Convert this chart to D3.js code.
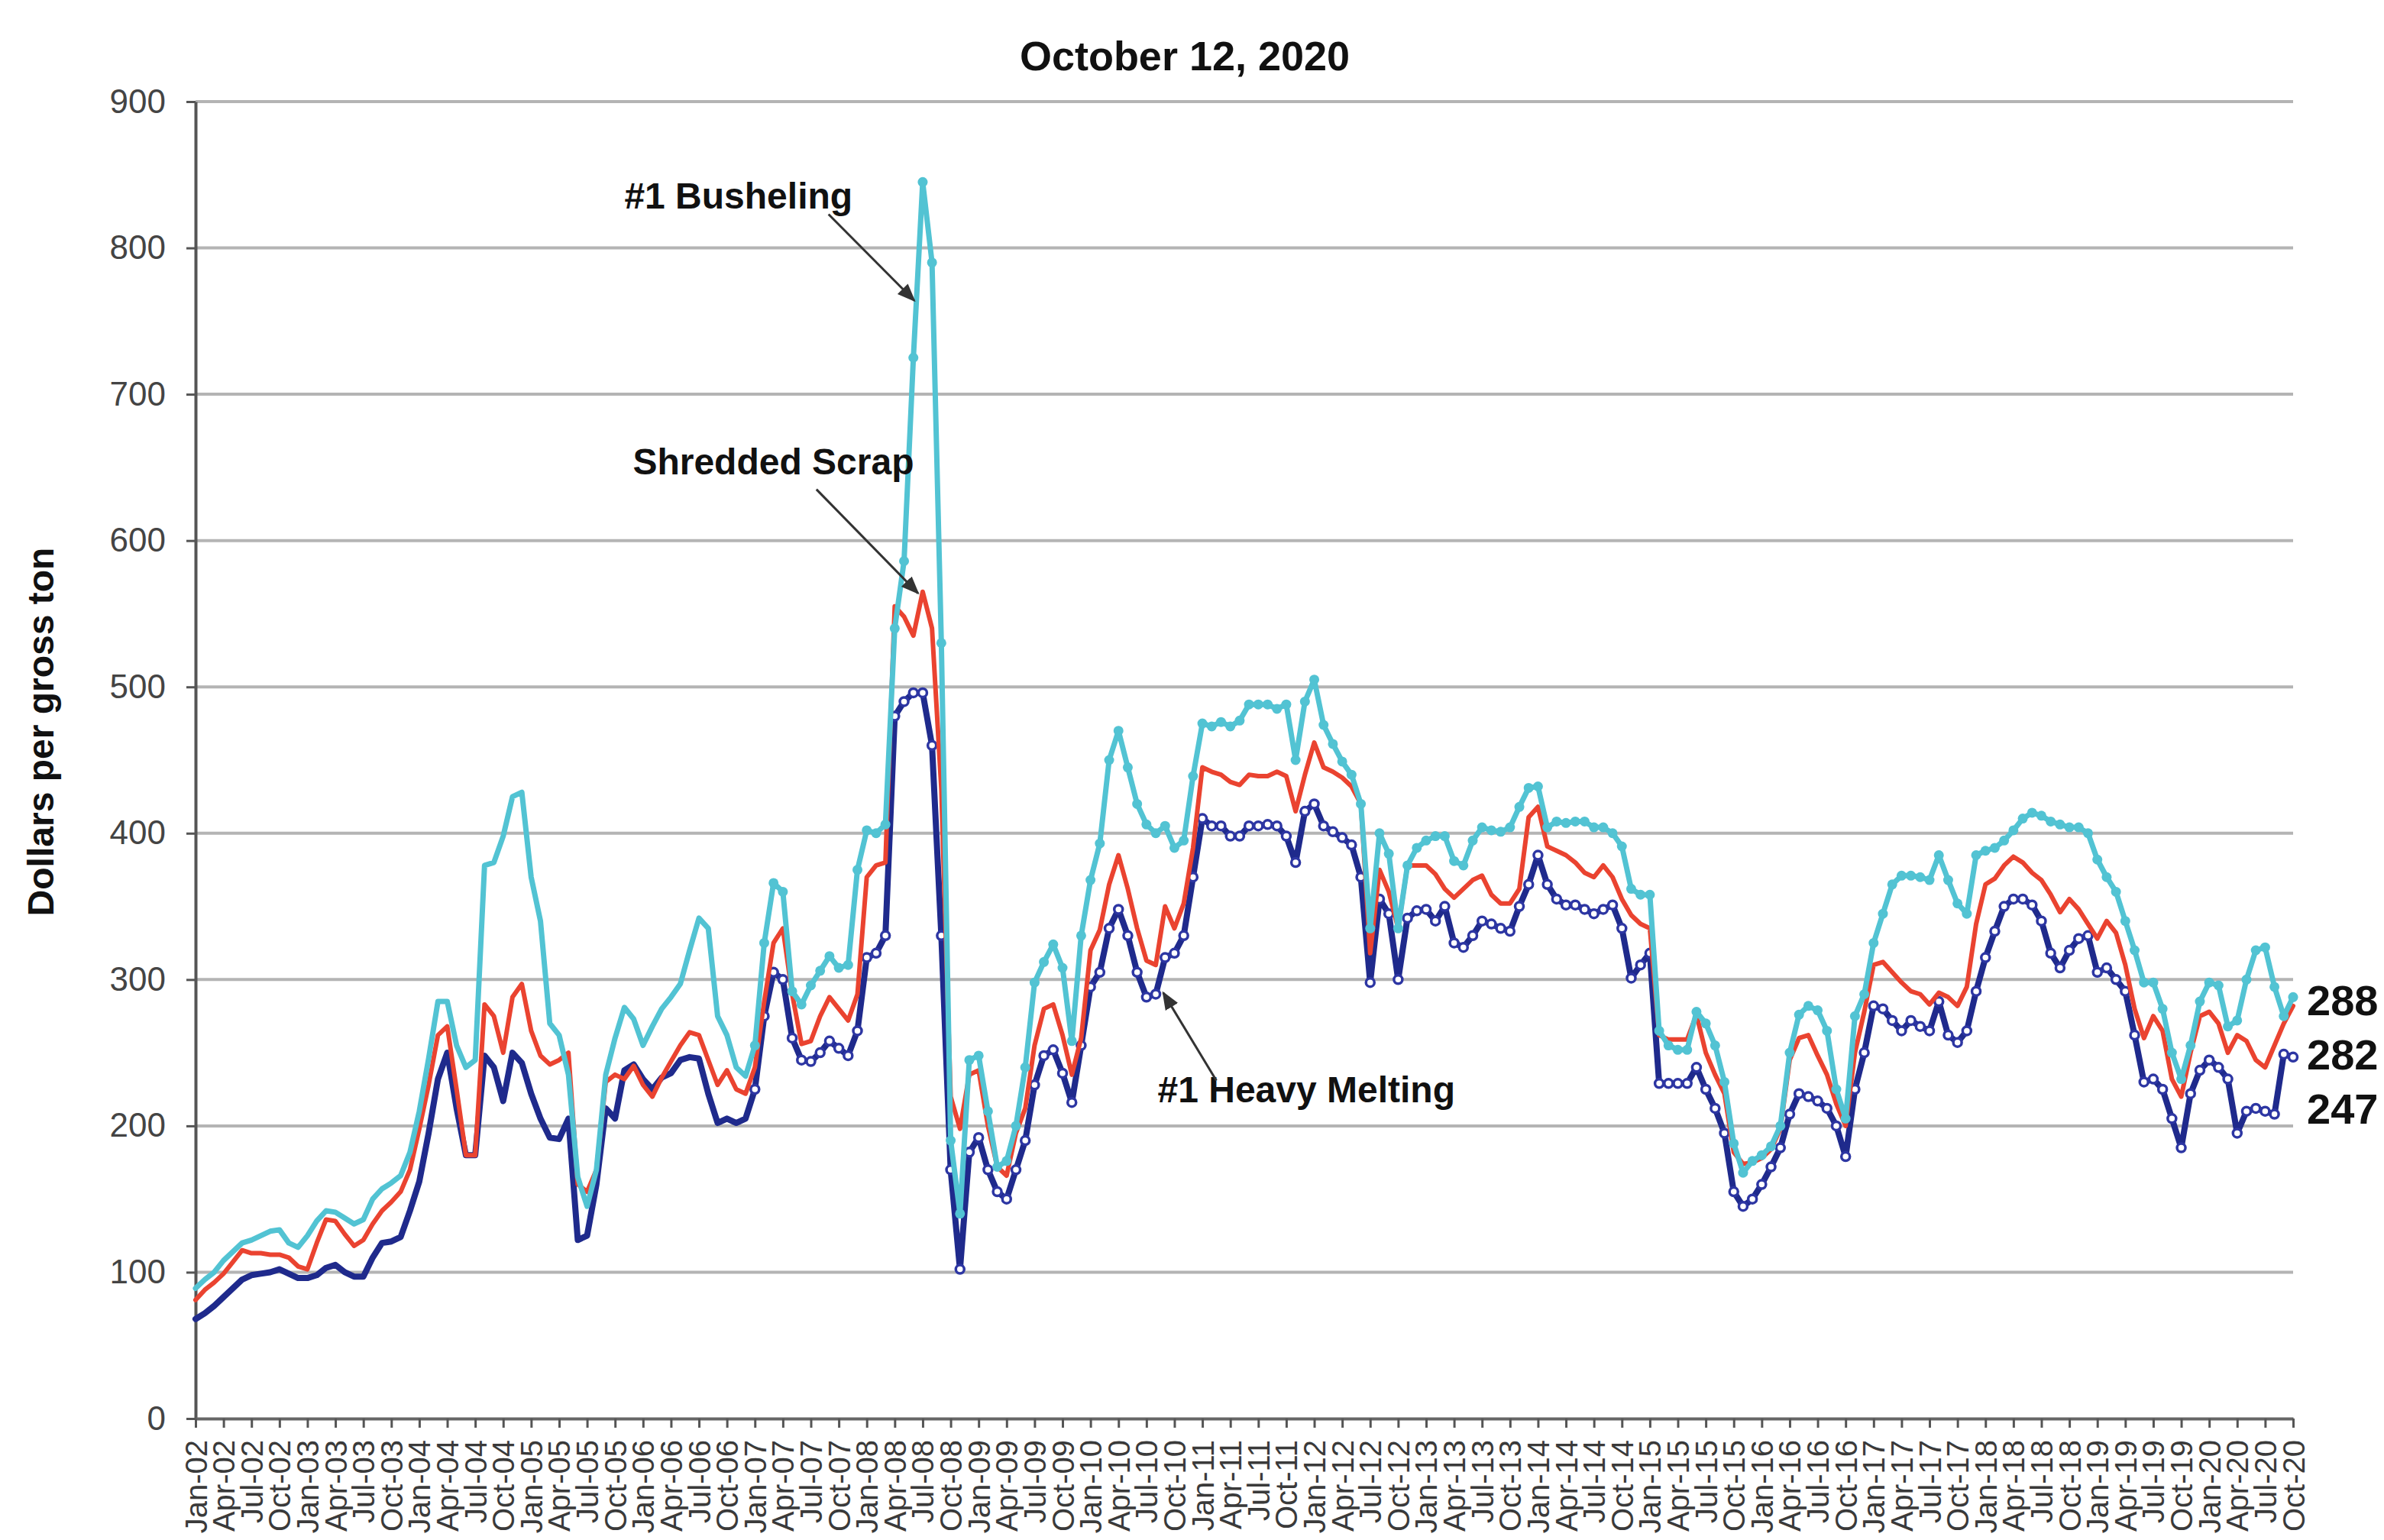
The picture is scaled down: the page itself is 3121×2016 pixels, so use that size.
<!DOCTYPE html>
<html>
<head>
<meta charset="utf-8">
<script src="https://cdn.jsdelivr.net/npm/d3@7"></script>
<style>
  body { margin: 0; background: #fff; }
  text { font-family: "Liberation Sans", Arial, sans-serif; }
</style>
</head>
<body>
<div id="chart"></div>
<script>
var years = ["02", "03", "04", "05", "06", "07", "08", "09", "10", "11",
	"12", "13", "14", "15", "16", "17", "18", "19", "20"];
var quarterMonths = ["Jan", "Apr", "Jul", "Oct"];
var yTicks = [0, 100, 200, 300, 400, 500, 600, 700, 800, 900];

// monthly prices, Jan-02 .. Oct-20, dollars per gross ton (one row per year)
var busheling = [
	89, 95, 100, 108, 114, 120, 122, 125, 128, 129, 120, 117,
	125, 135, 142, 141, 137, 133, 136, 150, 157, 161, 166, 182,
	210, 246, 285, 285, 255, 240, 245, 378, 380, 398, 425, 428,
	370, 340, 270, 262, 235, 165, 145, 170, 235, 260, 281, 273,
	255, 268, 280, 288, 297, 320, 342, 335, 275, 262, 240, 234,
	255, 325, 366, 360, 292, 283, 296, 306, 316, 308, 310, 375,
	402, 400, 406, 540, 586, 725, 845, 790, 530, 190, 140, 245,
	248, 210, 172, 176, 200, 240, 298, 312, 324, 308, 258, 330,
	368, 393, 450, 470, 445, 420, 406, 400, 405, 390, 395, 439,
	475, 473, 476, 473, 477, 488, 488, 488, 485, 488, 450, 490,
	505, 474, 461, 449, 440, 420, 335, 400, 386, 335, 378, 390,
	395, 398, 398, 381, 378, 395, 404, 402, 401, 404, 418, 431,
	432, 404, 408, 407, 408, 408, 404, 404, 400, 391, 362, 358,
	358, 265, 255, 252, 252, 278, 270, 255, 230, 188, 168, 176,
	180, 186, 200, 250, 276, 282, 279, 265, 225, 205, 275, 290,
	325, 345, 365, 371, 371, 370, 368, 385, 368, 352, 345, 385,
	388, 390, 395, 402, 410, 414, 412, 408, 406, 404, 404, 400,
	382, 370, 360, 340, 320, 298, 298, 280, 250, 232, 255, 285,
	298, 296, 268, 272, 300, 320, 322, 295, 275, 288
];
var shredded = [
	81, 88, 93, 99, 107, 115, 113, 113, 112, 112, 110, 104,
	102, 120, 136, 135, 126, 118, 122, 133, 142, 148, 155, 170,
	198, 228, 262, 268, 225, 180, 180, 283, 275, 250, 288, 297,
	265, 248, 242, 245, 250, 160, 155, 170, 230, 235, 232, 241,
	228, 220, 233, 244, 255, 264, 262, 245, 228, 238, 225, 222,
	240, 285, 325, 335, 290, 256, 258, 275, 288, 280, 272, 290,
	370, 378, 380, 555, 548, 535, 565, 540, 430, 220, 198, 235,
	238, 200, 172, 166, 195, 212, 255, 280, 283, 262, 235, 260,
	320, 334, 365, 385, 362, 335, 313, 310, 350, 335, 352, 390,
	445, 442, 440, 435, 433, 440, 439, 439, 442, 439, 415, 440,
	462, 445, 442, 438, 432, 420, 318, 375, 360, 335, 378, 378,
	378, 372, 362, 356, 362, 368, 371, 358, 352, 352, 362, 411,
	418, 391, 388, 385, 380, 373, 370, 378, 370, 355, 344, 338,
	335, 262, 259, 259, 259, 276, 250, 235, 222, 182, 174, 175,
	178, 184, 198, 245, 260, 262, 248, 235, 215, 200, 250, 278,
	310, 312, 305, 298, 292, 290, 283, 291, 288, 282, 295, 338,
	365, 369, 378, 384, 380, 373, 368, 358, 346, 355, 348, 338,
	328, 340, 332, 310, 280, 260, 275, 265, 232, 220, 250, 275,
	278, 270, 250, 262, 258, 245, 240, 255, 270, 282
];
var heavyMelting = [
	68, 72, 77, 83, 89, 95, 98, 99, 100, 102, 99, 96,
	96, 98, 103, 105, 100, 97, 97, 110, 120, 121, 124, 142,
	162, 195, 232, 250, 212, 180, 180, 248, 240, 217, 250, 243,
	222, 205, 192, 191, 205, 122, 125, 160, 212, 205, 238, 242,
	232, 225, 233, 236, 245, 247, 246, 222, 202, 205, 202, 205,
	225, 275, 305, 300, 260, 245, 244, 250, 258, 253, 248, 265,
	315, 318, 330, 480, 490, 496, 496, 460, 330, 170, 102, 182,
	192, 170, 155, 150, 170, 190, 228, 248, 252, 236, 216, 255,
	295, 305, 335, 348, 330, 305, 288, 290, 315, 318, 330, 370,
	410, 405, 405, 398, 398, 405, 405, 406, 405, 398, 380, 415,
	420, 405, 401, 397, 392, 370, 298, 355, 345, 300, 342, 347,
	348, 340, 350, 325, 322, 330, 340, 338, 335, 333, 350, 365,
	385, 365, 355, 351, 351, 348, 345, 348, 351, 335, 301, 310,
	318, 229, 229, 229, 229, 240, 225, 212, 195, 155, 145, 150,
	160, 172, 185, 208, 222, 220, 217, 212, 200, 179, 225, 250,
	282, 280, 272, 265, 272, 268, 265, 285, 262, 257, 265, 292,
	315, 333, 350, 355, 355, 351, 340, 318, 308, 320, 328, 330,
	305, 308, 300, 292, 262, 230, 232, 225, 205, 185, 222, 238,
	245, 240, 232, 195, 210, 212, 210, 208, 249, 247
];

// quarterly tick labels Jan-02 .. Oct-20
var tickLabels = [];
years.forEach(function (yr) {
	quarterMonths.forEach(function (mo) {
		tickLabels.push(mo + "-" + yr);
	});
});

var width = 3121;
var height = 2016;
var lastIndex = busheling.length - 1;
var markerStart = 60; // markers only drawn from Jan-07 on

var series = [
	{ name: "#1 Heavy Melting", values: heavyMelting, color: "#1f2a8c", width: 8, marker: "open" },
	{ name: "Shredded Scrap", values: shredded, color: "#ea4330", width: 6, marker: "none" },
	{ name: "#1 Busheling", values: busheling, color: "#52c3d3", width: 7, marker: "filled" }
];

// annotation spots in data units (month index, dollars)
var notes = [
	{ text: "#1 Busheling", at: [46, 827], from: [67.9, 823], to: [77.1, 764] },
	{ text: "Shredded Scrap", at: [46.9, 645], from: [66.6, 635], to: [77.5, 564] },
	{ text: "#1 Heavy Melting", at: [103.2, 216], from: [109.5, 231], to: [103.8, 291] }
];

var svg = d3.select("#chart")
	.append("svg")
	.attr("width", width)
	.attr("height", height)
	.style("background", "#fff");

var x = d3.scaleLinear().domain([0, lastIndex]).range([256, 3002]);
var y = d3.scaleLinear().domain([0, 900]).range([1857, 133]);

svg.append("defs").append("marker")
	.attr("id", "arrow")
	.attr("viewBox", "0 0 10 10")
	.attr("refX", 9)
	.attr("refY", 5)
	.attr("markerWidth", 8)
	.attr("markerHeight", 8)
	.attr("markerUnits", "strokeWidth")
	.attr("orient", "auto")
	.append("path")
	.attr("d", "M0,1 L10,5 L0,9 Z")
	.attr("fill", "#333");

// gridlines
svg.append("g")
	.selectAll("line")
	.data(yTicks.slice(1))
	.enter()
	.append("line")
	.attr("x1", x(0))
	.attr("x2", x(lastIndex))
	.attr("y1", d => y(d))
	.attr("y2", d => y(d))
	.attr("stroke", "#b4b4b4")
	.attr("stroke-width", 4);

// y axis
var leftAxis = d3.axisLeft(y).tickValues(yTicks).tickSize(12).tickSizeOuter(0).tickPadding(27);
var yAxis = svg.append("g")
	.attr("transform", `translate(${x(0)}, 0)`)
	.call(leftAxis);
yAxis.select(".domain").attr("stroke", "#555").attr("stroke-width", 4);
yAxis.selectAll(".tick line").attr("stroke", "#555").attr("stroke-width", 3);
yAxis.selectAll("text")
	.attr("font-size", "44px")
	.attr("fill", "#444")
	.attr("font-family", "Liberation Sans, Arial, sans-serif");

// x axis, one tick per quarter
var bottomAxis = d3.axisBottom(x)
	.tickValues(d3.range(0, lastIndex + 1, 3))
	.tickFormat((d, i) => tickLabels[i])
	.tickSize(12)
	.tickSizeOuter(0);
var xAxis = svg.append("g")
	.attr("transform", `translate(0, ${y(0)})`)
	.call(bottomAxis);
xAxis.select(".domain").attr("stroke", "#666").attr("stroke-width", 4);
xAxis.selectAll(".tick line").attr("stroke", "#555").attr("stroke-width", 3);
xAxis.selectAll("text")
	.attr("transform", "rotate(-90)")
	.attr("text-anchor", "end")
	.attr("x", -28)
	.attr("y", 0)
	.attr("dy", "0.35em")
	.attr("font-size", "40px")
	.attr("fill", "#3a3a3a")
	.attr("font-family", "Liberation Sans, Arial, sans-serif");

// lines and markers
var line = d3.line()
	.x((d, i) => x(i))
	.y(d => y(d));

series.forEach(function (s) {
	var g = svg.append("g");
	g.append("path")
		.datum(s.values)
		.attr("d", line)
		.attr("fill", "none")
		.attr("stroke", s.color)
		.attr("stroke-width", s.width)
		.attr("stroke-linejoin", "round")
		.attr("stroke-linecap", "round");
	if (s.marker === "none") return;
	var pts = s.values.map((v, i) => [i, v]).filter(p => p[0] >= markerStart);
	g.selectAll("circle")
		.data(pts)
		.enter()
		.append("circle")
		.attr("cx", d => x(d[0]))
		.attr("cy", d => y(d[1]))
		.attr("r", s.marker === "open" ? 5.5 : 6.5)
		.attr("fill", s.marker === "open" ? "#fff" : s.color)
		.attr("stroke", s.marker === "open" ? "#2d36a3" : "none")
		.attr("stroke-width", 3.5);
});

// annotations with arrows
notes.forEach(function (n) {
	svg.append("text")
		.attr("x", x(n.at[0]))
		.attr("y", y(n.at[1]))
		.attr("font-size", "48px")
		.attr("font-weight", "bold")
		.attr("fill", "#111")
		.text(n.text);
	svg.append("line")
		.attr("x1", x(n.from[0]))
		.attr("y1", y(n.from[1]))
		.attr("x2", x(n.to[0]))
		.attr("y2", y(n.to[1]))
		.attr("stroke", "#333")
		.attr("stroke-width", 3)
		.attr("marker-end", "url(#arrow)");
});

// latest values at the right edge
var endValues = [busheling[lastIndex], shredded[lastIndex], heavyMelting[lastIndex]];
svg.append("g")
	.selectAll("text")
	.data(endValues)
	.enter()
	.append("text")
	.attr("x", x(lastIndex) + 18)
	.attr("y", (d, i) => y(endValues[0]) + 24 + i * 71)
	.attr("font-size", "56px")
	.attr("font-weight", "bold")
	.attr("fill", "#111")
	.text(d => d);

// title
svg.append("text")
	.attr("x", 1551)
	.attr("y", 92)
	.attr("text-anchor", "middle")
	.attr("font-size", "54px")
	.attr("font-weight", "bold")
	.attr("fill", "#111")
	.text("October 12, 2020");

// y axis title
svg.append("text")
	.attr("transform", "translate(70, 958) rotate(-90)")
	.attr("text-anchor", "middle")
	.attr("font-size", "48px")
	.attr("font-weight", "bold")
	.attr("fill", "#111")
	.text("Dollars per gross ton");
</script>
</body>
</html>
